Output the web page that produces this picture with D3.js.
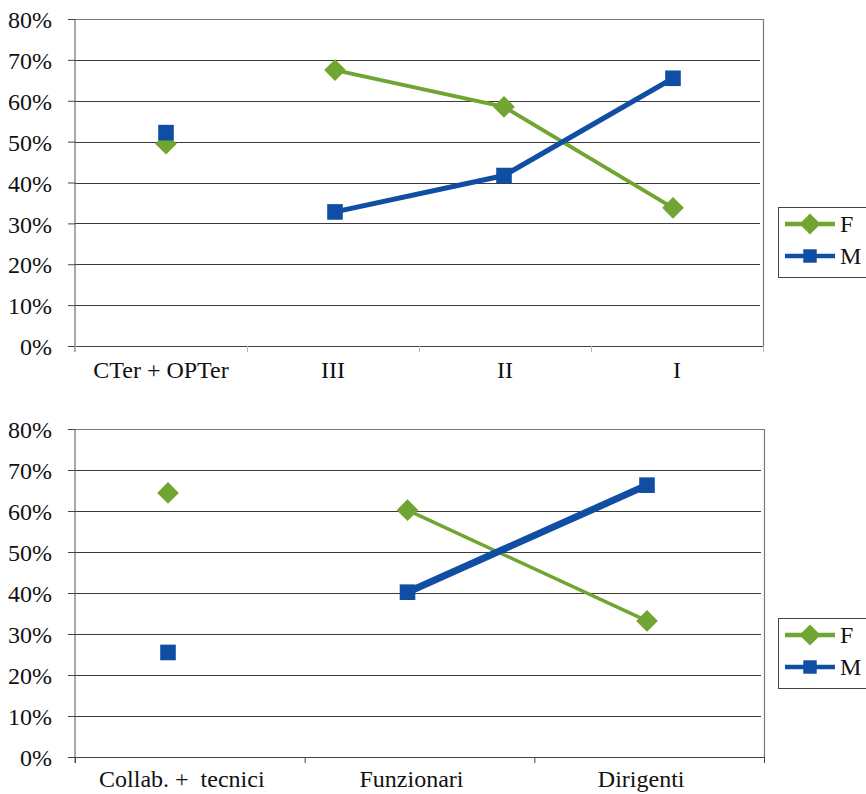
<!DOCTYPE html>
<html><head><meta charset="utf-8">
<script src="https://cdn.jsdelivr.net/npm/d3@7"></script>
<style>html,body{margin:0;padding:0;background:#fff;overflow:hidden}</style>
</head><body>
<svg id="chart" width="866" height="794"></svg>
<script>
// ---- data ----
const seriesNames = ["F", "M"];
const yTicks = [0, 10, 20, 30, 40, 50, 60, 70, 80];

const topCategories = ["CTer + OPTer", "III", "II", "I"];
const topF = [49.5, 67.5, 58.5, 33.8];
const topM = [52.2, 32.8, 41.7, 65.5];
const topJoined = [false, true, true, true];

const bottomCategories = ["Collab. +  tecnici", "Funzionari", "Dirigenti"];
const bottomF = [64.4, 60.2, 33.2];
const bottomM = [25.5, 40.2, 66.3];
const bottomJoined = [false, true, true];

// ---- style ----
const GREEN = "#71a531", BLUE = "#0f4ea3";
const FONT = "'Liberation Serif','Times New Roman',serif";
const FS = "24px";
const svg = d3.select("#chart");
const diamond = d3.symbol().type(d3.symbolDiamond2).size(300);
const square = d3.symbol().type(d3.symbolSquare2).size(310);

function drawChart(cfg) {
  const g = svg.append("g");
  const x = d3.scaleBand().domain(cfg.categories).range([cfg.left, cfg.right]);
  const xp = d3.scalePoint().domain(cfg.categories).range(cfg.markRange);
  const y = d3.scaleLinear().domain([0, 80]).range([cfg.bottom, cfg.top]);

  // gridlines
  g.selectAll("line.grid").data(yTicks.filter(t => t > 0 && t < 80)).enter().append("line")
    .attr("x1", cfg.left).attr("x2", cfg.right - 3)
    .attr("y1", d => Math.round(y(d)) + 0.5).attr("y2", d => Math.round(y(d)) + 0.5)
    .attr("stroke", "#3a3a3a").attr("stroke-width", 1);

  // plot border (top & right)
  g.append("path")
    .attr("d", `M${cfg.left},${Math.round(cfg.top) + 0.5}H${cfg.right + 0.5}V${cfg.bottom}`)
    .attr("fill", "none").attr("stroke", "#7a7a7a").attr("stroke-width", 1.2);

  // y axis
  const yAxis = d3.axisLeft(y).tickValues(yTicks).tickSize(7).tickPadding(16)
    .tickFormat(d => d + "%");
  const ya = g.append("g").attr("transform", `translate(${cfg.left},0)`).call(yAxis);
  ya.attr("font-family", null).attr("font-size", null);
  ya.select(".domain").attr("stroke", "#555").attr("d", `M0,${cfg.top}V${cfg.bottom + 6}`);
  ya.selectAll(".tick line").attr("stroke", "#444");
  ya.selectAll("text").style("font-family", FONT).style("font-size", FS).attr("fill", "#111")
    .attr("dy", "0.36em");

  // x axis
  const xa = g.append("g").attr("transform", `translate(0,${cfg.bottom})`);
  xa.append("line").attr("x1", cfg.left).attr("x2", cfg.right + 1).attr("y1", 0.5).attr("y2", 0.5)
    .attr("stroke", "#444").attr("stroke-width", 1.2);
  const bounds = cfg.categories.map(c => x(c)).concat([cfg.right]);
  xa.selectAll("line.tk").data(bounds).enter().append("line")
    .attr("x1", d => d + 0.5).attr("x2", d => d + 0.5).attr("y1", 0).attr("y2", 6)
    .attr("stroke", cfg.tickColor);
  xa.selectAll("text").data(cfg.categories).enter().append("text")
    .attr("x", d => x(d) + x.bandwidth() / 2 + cfg.labelShift)
    .attr("y", cfg.labelDy)
    .attr("text-anchor", "middle").style("font-family", FONT).style("font-size", FS)
    .attr("fill", "#111").style("white-space", "pre").text(d => d);

  const series = [
    { name: seriesNames[0], vals: cfg.F, color: GREEN, width: cfg.wF, sym: diamond },
    { name: seriesNames[1], vals: cfg.M, color: BLUE, width: cfg.wM, sym: square }
  ];
  const cx = i => xp(cfg.categories[i]);

  series.forEach(s => {
    const pts = s.vals.map((v, i) => ({ i, v }));
    const line = d3.line().defined(p => cfg.joined[p.i]).x(p => cx(p.i)).y(p => y(p.v));
    g.append("path").datum(pts).attr("d", line).attr("fill", "none")
      .attr("stroke", s.color).attr("stroke-width", s.width);
  });
  series.forEach(s => {
    g.selectAll(null).data(s.vals).enter().append("path")
      .attr("d", s.sym())
      .attr("transform", (d, i) => `translate(${cx(i)},${y(d)})`)
      .attr("fill", s.color);
  });

  // legend
  const lg = g.append("g");
  lg.append("rect").attr("x", 778.5).attr("y", cfg.legTop + 0.5).attr("width", 100).attr("height", 70)
    .attr("fill", "#fff").attr("stroke", "#444").attr("stroke-width", 1);
  series.forEach((s, k) => {
    const yy = cfg.legTop + 17 + k * 32;
    lg.append("line").attr("x1", 785).attr("x2", 835).attr("y1", yy).attr("y2", yy)
      .attr("stroke", s.color).attr("stroke-width", 4.5);
    lg.append("path").attr("d", k === 0 ? d3.symbol().type(d3.symbolDiamond2).size(280)() : d3.symbol().type(d3.symbolSquare2).size(230)())
      .attr("transform", `translate(810,${yy})`).attr("fill", s.color);
    lg.append("text").attr("x", 840).attr("y", yy + 8).style("font-family", FONT)
      .style("font-size", FS).attr("fill", "#111").text(s.name);
  });
}

drawChart({
  categories: topCategories, F: topF, M: topM, joined: topJoined,
  left: 75, right: 763, top: 19, bottom: 346, labelDy: 32, labelShift: 0,
  markRange: [166, 673],
  wF: 4, wM: 5, legTop: 207, tickColor: "#a9bccc"
});
drawChart({
  categories: bottomCategories, F: bottomF, M: bottomM, joined: bottomJoined,
  left: 75, right: 764, top: 429, bottom: 757, labelDy: 30, labelShift: -8,
  markRange: [168, 647],
  wF: 3.5, wM: 7, legTop: 618, tickColor: "#444"
});
</script>
</body></html>
